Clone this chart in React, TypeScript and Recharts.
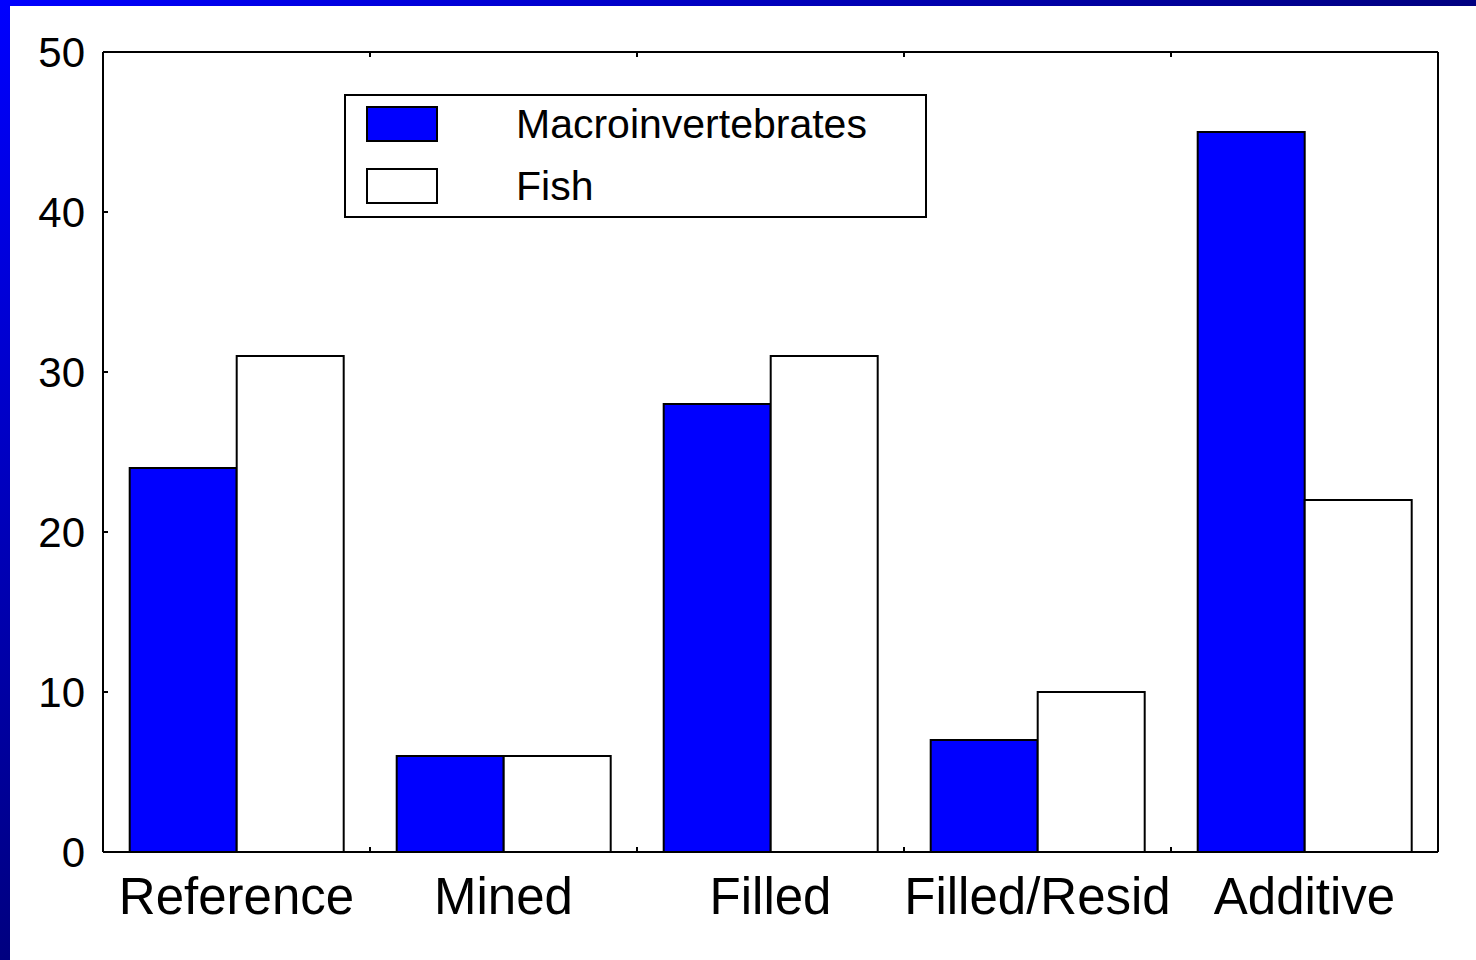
import React from 'react';
import { BarChart, Bar, XAxis, YAxis, Legend } from 'recharts';

const categories = ['Reference', 'Mined', 'Filled', 'Filled/Resid', 'Additive'];
const macroinvertebrates = [24, 6, 28, 7, 45];
const fish = [31, 6, 31, 10, 22];
const yTicks = [0, 10, 20, 30, 40, 50];

const FONT = '"Liberation Sans", Arial, sans-serif';

const data = categories.map((name, i) => ({
  name,
  macro: macroinvertebrates[i],
  fish: fish[i],
}));

// bottom axis: label at band centre, small inward tick at the band's left edge
const BottomTick = (props: any) => {
  const { x, y, payload, index } = props;
  const half = payload?.offset ?? 0;
  return (
    <g>
      {index > 0 && (
        <line x1={x - half} x2={x - half} y1={y} y2={y - 5} stroke="#000" strokeWidth={2} />
      )}
      <text x={x} y={y + 62} textAnchor="middle" fontSize={51} fontFamily={FONT} fill="#000">
        {payload.value}
      </text>
    </g>
  );
};

const TopTick = (props: any) => {
  const { x, y, payload, index } = props;
  const half = payload?.offset ?? 0;
  if (index === 0) return <g />;
  return <line x1={x - half} x2={x - half} y1={y} y2={y + 5} stroke="#000" strokeWidth={2} />;
};

const LegendBox = () => (
  <div
    style={{
      width: 583,
      height: 124,
      boxSizing: 'border-box',
      border: '2px solid #000',
      background: '#fff',
      position: 'relative',
      fontFamily: FONT,
      fontSize: 41,
      color: '#000',
    }}
  >
    {[
      { label: 'Macroinvertebrates', fill: '#0000ff', top: 10 },
      { label: 'Fish', fill: '#ffffff', top: 72 },
    ].map((item) => (
      <div key={item.label}>
        <div
          style={{
            position: 'absolute',
            left: 20,
            top: item.top,
            width: 72,
            height: 36,
            boxSizing: 'border-box',
            border: '2px solid #000',
            background: item.fill,
          }}
        />
        <div
          style={{
            position: 'absolute',
            left: 170,
            top: item.top - 11,
            lineHeight: '58px',
            whiteSpace: 'nowrap',
          }}
        >
          {item.label}
        </div>
      </div>
    ))}
  </div>
);

export default function App() {
  return (
    <div
      style={{
        position: 'absolute',
        left: 0,
        top: 0,
        width: 1476,
        height: 960,
        overflow: 'hidden',
        background: 'linear-gradient(to bottom right, #0000ff 0%, #000080 50%, #000060 100%)',
      }}
    >
      <div style={{ position: 'absolute', left: 10, top: 6, right: 0, bottom: 0, background: '#fff' }} />
      <div style={{ position: 'absolute', left: 0, top: 0 }}>
        <BarChart
          width={1476}
          height={960}
          data={data}
          margin={{ top: 51, right: 37, bottom: 48, left: 43 }}
          barCategoryGap="10%"
          barGap={0}
        >
          <XAxis
            dataKey="name"
            xAxisId="bottom"
            height={60}
            tickSize={0}
            tickMargin={0}
            tick={<BottomTick />}
            tickLine={false}
            axisLine={{ stroke: '#000', strokeWidth: 2 }}
            interval={0}
          />
          <XAxis
            dataKey="name"
            xAxisId="top"
            orientation="top"
            height={1}
            tickSize={0}
            tickMargin={0}
            tick={<TopTick />}
            tickLine={false}
            axisLine={{ stroke: '#000', strokeWidth: 2 }}
            interval={0}
          />
          <YAxis
            yAxisId="left"
            width={60}
            type="number"
            domain={[0, 50]}
            ticks={yTicks}
            interval={0}
            tickSize={-5}
            tickMargin={23}
            tickLine={{ stroke: '#000', strokeWidth: 2 }}
            axisLine={{ stroke: '#000', strokeWidth: 2 }}
            tick={{ fontSize: 42, fontFamily: FONT, fill: '#000' }}
          />
          <YAxis
            yAxisId="right"
            orientation="right"
            width={1}
            type="number"
            domain={[0, 50]}
            allowDataOverflow
            ticks={yTicks}
            interval={0}
            tickSize={-5}
            tick={false}
            tickLine={{ stroke: '#000', strokeWidth: 2 }}
            axisLine={{ stroke: '#000', strokeWidth: 2 }}
          />
          <Legend
            layout="horizontal"
            verticalAlign="middle"
            content={<LegendBox />}
            wrapperStyle={{ left: 344, top: 94, width: 583, height: 124 }}
          />
          <Bar
            dataKey="macro"
            name="Macroinvertebrates"
            xAxisId="bottom"
            yAxisId="left"
            fill="#0000ff"
            stroke="#000"
            strokeWidth={2}
            isAnimationActive={false}
          />
          <Bar
            dataKey="fish"
            name="Fish"
            xAxisId="bottom"
            yAxisId="left"
            fill="#ffffff"
            stroke="#000"
            strokeWidth={2}
            isAnimationActive={false}
          />
        </BarChart>
      </div>
    </div>
  );
}
